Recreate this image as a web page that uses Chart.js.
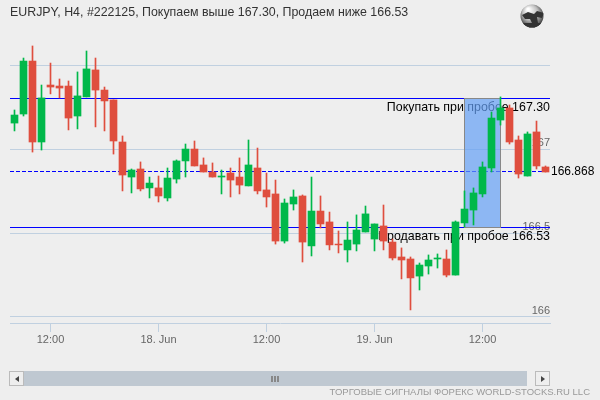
<!DOCTYPE html>
<html>
<head>
<meta charset="utf-8">
<script src="https://cdn.jsdelivr.net/npm/chart.js@4"></script>
<style>
  html, body { margin: 0; background: #EEEEEE; }
  canvas { display: block; }
</style>
</head>
<body>
<canvas id="chart" width="600" height="400"></canvas>
<script>
const open = [167.157,167.211,167.527,167.044,167.384,167.378,167.378,167.199,167.313,167.474,167.354,167.295,167.044,166.835,166.883,166.770,166.770,166.710,166.823,166.931,167.002,166.907,166.865,166.835,166.859,166.835,166.782,166.889,166.758,166.734,166.453,166.674,166.722,166.424,166.632,166.567,166.435,166.400,166.435,166.507,166.465,166.543,166.447,166.358,166.346,166.244,166.304,166.346,166.346,166.250,166.561,166.638,166.734,166.889,167.175,167.247,167.056,166.841,167.104,166.895];
const high = [167.235,167.545,167.617,167.384,167.515,167.420,167.408,167.462,167.587,167.545,167.372,167.295,167.080,166.883,166.925,166.835,166.841,166.889,166.937,167.032,167.050,166.949,166.919,166.877,166.889,166.949,167.056,167.008,166.859,166.817,166.704,166.758,166.728,166.835,166.722,166.626,166.513,166.567,166.609,166.662,166.555,166.668,166.465,166.412,166.358,166.322,166.370,166.376,166.400,166.573,166.752,166.770,166.925,167.223,167.313,167.265,167.080,167.104,167.169,166.901];
const low = [167.110,167.199,166.984,166.996,167.331,167.307,167.116,167.122,167.313,167.134,167.110,166.972,166.752,166.740,166.752,166.710,166.686,166.692,166.799,166.835,166.901,166.865,166.835,166.734,166.716,166.734,166.782,166.734,166.656,166.435,166.441,166.638,166.328,166.364,166.531,166.400,166.382,166.328,166.394,166.507,166.394,166.400,166.340,166.227,166.042,166.161,166.256,166.292,166.239,166.250,166.537,166.549,166.716,166.865,167.145,167.032,166.829,166.841,166.883,166.865];
const close = [167.205,167.527,167.044,167.307,167.372,167.366,167.187,167.319,167.480,167.354,167.289,167.050,166.847,166.877,166.764,166.799,166.722,166.829,166.931,167.002,166.901,166.865,166.835,166.841,166.817,166.787,166.907,166.752,166.716,166.453,166.680,166.716,166.447,166.632,166.555,166.430,166.430,166.459,166.519,166.615,166.555,166.453,166.352,166.340,166.233,166.310,166.340,166.352,166.250,166.567,166.644,166.740,166.895,167.187,167.247,167.044,166.853,167.092,166.901,166.865];

const tickIndex = [4, 16, 28, 40, 52];
const tickText = ['12:00', '18. Jun', '12:00', '19. Jun', '12:00'];
const priceTicks = [166, 166.5, 167, 167.5];
const priceText = ['166', '166.5', '167', ''];

const buyLevel = 167.30;
const sellLevel = 166.53;
const lastPrice = 166.868;
const boxFrom = 50;
const boxTo = 54;

const categories = open.map((_, i) => String(i));
const GREEN = '#00B84A';
const RED = '#DF4E3E';
const candleColors = open.map((o, i) => close[i] >= o ? GREEN : RED);

const crisp = (px) => Math.floor(px - 0.45) + 0.5;

const overlay = {
  id: 'overlay',
  beforeDatasetsDraw(chart) {
    const { ctx, chartArea: a, scales: { x, y } } = chart;
    const yBuy = crisp(y.getPixelForValue(buyLevel));
    const ySell = crisp(y.getPixelForValue(sellLevel));
    const yLast = crisp(y.getPixelForValue(lastPrice));
    ctx.save();
    ctx.lineWidth = 1;
    ctx.strokeStyle = '#0000FF';
    [yBuy, ySell].forEach(py => {
      ctx.beginPath(); ctx.moveTo(a.left, py); ctx.lineTo(a.right, py); ctx.stroke();
    });
    ctx.setLineDash([4, 2]);
    ctx.beginPath(); ctx.moveTo(a.left, yLast); ctx.lineTo(a.right, yLast); ctx.stroke();
    ctx.setLineDash([]);

    ctx.font = '12.4px "Liberation Sans"';
    ctx.fillStyle = '#000';
    ctx.textAlign = 'right';
    ctx.textBaseline = 'middle';
    ctx.fillText('Покупать при пробое 167.30', a.right, yBuy + 9);
    ctx.fillText('Продавать при пробое 166.53', a.right, ySell + 9);

    const x0 = Math.floor(x.getPixelForValue(boxFrom)) + 0.5;
    const x1 = Math.floor(x.getPixelForValue(boxTo)) + 0.5;
    ctx.fillStyle = 'rgba(100,160,245,0.7)';
    ctx.fillRect(x0, yBuy, x1 - x0, ySell - yBuy);
    ctx.strokeStyle = '#888888';
    ctx.strokeRect(x0, yBuy, x1 - x0, ySell - yBuy);
    ctx.restore();
  },
  afterDraw(chart) {
    const { ctx, chartArea: a, scales: { y } } = chart;
    ctx.save();
    // last price label
    ctx.font = '12px "Liberation Sans"';
    ctx.fillStyle = '#000';
    ctx.textBaseline = 'middle';
    ctx.fillText(String(lastPrice), a.right + 1, y.getPixelForValue(lastPrice));

    // globe
    const g = ctx.createRadialGradient(528, 9, 1, 532, 15, 13);
    g.addColorStop(0, '#FFFFFF');
    g.addColorStop(0.55, '#BDBDBD');
    g.addColorStop(0.85, '#666666');
    g.addColorStop(1, '#222222');
    ctx.fillStyle = g;
    ctx.beginPath(); ctx.arc(532, 16, 11.5, 0, Math.PI * 2); ctx.fill();
    ctx.save();
    ctx.beginPath(); ctx.arc(532, 16, 11.5, 0, Math.PI * 2); ctx.clip();
    ctx.filter = 'blur(0.7px)';
    ctx.fillStyle = '#333';
    ctx.beginPath();
    ctx.moveTo(522, 15); ctx.lineTo(528, 12); ctx.lineTo(534, 14); ctx.lineTo(537, 11);
    ctx.lineTo(544, 13); ctx.lineTo(542, 18); ctx.lineTo(537, 17); ctx.lineTo(538, 23);
    ctx.lineTo(533, 25); ctx.lineTo(530, 19); ctx.lineTo(525, 19);
    ctx.fill();
    ctx.fillRect(520, 23, 24, 6);
    ctx.restore();

    // scrollbar
    ctx.fillStyle = '#BFC8D1';
    ctx.fillRect(23, 371, 504, 15);
    ctx.fillStyle = '#EEEEEE';
    ctx.strokeStyle = '#BBBBBB';
    ctx.fillRect(10, 371, 13, 14);
    ctx.strokeRect(9.5, 371.5, 14, 14);
    ctx.fillRect(535, 371, 14, 14);
    ctx.strokeRect(535.5, 371.5, 14, 14);
    ctx.fillStyle = '#444';
    ctx.beginPath(); ctx.moveTo(19, 376); ctx.lineTo(19, 382); ctx.lineTo(15, 379); ctx.fill();
    ctx.beginPath(); ctx.moveTo(541, 376); ctx.lineTo(541, 382); ctx.lineTo(545, 379); ctx.fill();
    ctx.fillStyle = '#888';
    [271, 274, 277].forEach(px => ctx.fillRect(px, 376, 2, 6));

    // footer
    ctx.font = '9.5px "Liberation Sans"';
    ctx.fillStyle = '#999999';
    ctx.textAlign = 'right';
    ctx.fillText('ТОРГОВЫЕ СИГНАЛЫ ФОРЕКС WORLD-STOCKS.RU LLC', 590, 392);
    ctx.restore();
  }
};

new Chart(document.getElementById('chart'), {
  type: 'bar',
  data: {
    labels: categories,
    datasets: [
      {
        label: 'wick',
        data: low.map((v, i) => [v, high[i]]),
        backgroundColor: candleColors,
        barThickness: 1,
        grouped: false,
        borderSkipped: false,
        order: 2
      },
      {
        label: 'body',
        data: open.map((v, i) => [v, close[i]]),
        backgroundColor: candleColors,
        barThickness: 7,
        grouped: false,
        borderSkipped: false,
        order: 1
      }
    ]
  },
  options: {
    responsive: false,
    animation: false,
    layout: { padding: { left: 10, right: 50, top: 0, bottom: 0 } },
    scales: {
      x: {
        type: 'category',
        afterBuildTicks: (scale) => { scale.ticks = tickIndex.map(v => ({ value: v })); },
        afterFit: (scale) => { scale.height = 77; },
        grid: { offset: false, drawOnChartArea: false, color: '#C0D0E0', tickLength: 9 },
        border: { color: '#C0D0E0' },
        ticks: {
          autoSkip: false,
          maxRotation: 0,
          padding: 1,
          color: '#666666',
          font: { family: '"Liberation Sans"', size: 11 },
          callback: (value) => tickText[tickIndex.indexOf(value)]
        }
      },
      y: {
        position: 'right',
        min: 165.964,
        max: 167.742,
        afterBuildTicks: (scale) => { scale.ticks = priceTicks.map(v => ({ value: v })); },
        afterFit: (scale) => { scale.width = 0; },
        grid: { color: '#C0D0E0', drawTicks: false },
        border: { display: false },
        ticks: {
          mirror: true,
          padding: 0,
          labelOffset: -6,
          color: '#666666',
          font: { family: '"Liberation Sans"', size: 11 },
          callback: (value) => priceText[priceTicks.indexOf(value)]
        }
      }
    },
    plugins: {
      legend: { display: false },
      tooltip: { enabled: false },
      title: {
        display: true,
        text: 'EURJPY, H4, #222125, Покупаем выше 167.30, Продаем ниже 166.53',
        align: 'start',
        color: '#333333',
        font: { family: '"Liberation Sans"', size: 12.4, weight: 'normal', lineHeight: 1.26 },
        padding: { top: 5, bottom: 4.4 }
      }
    }
  },
  plugins: [overlay]
});
</script>
</body>
</html>
